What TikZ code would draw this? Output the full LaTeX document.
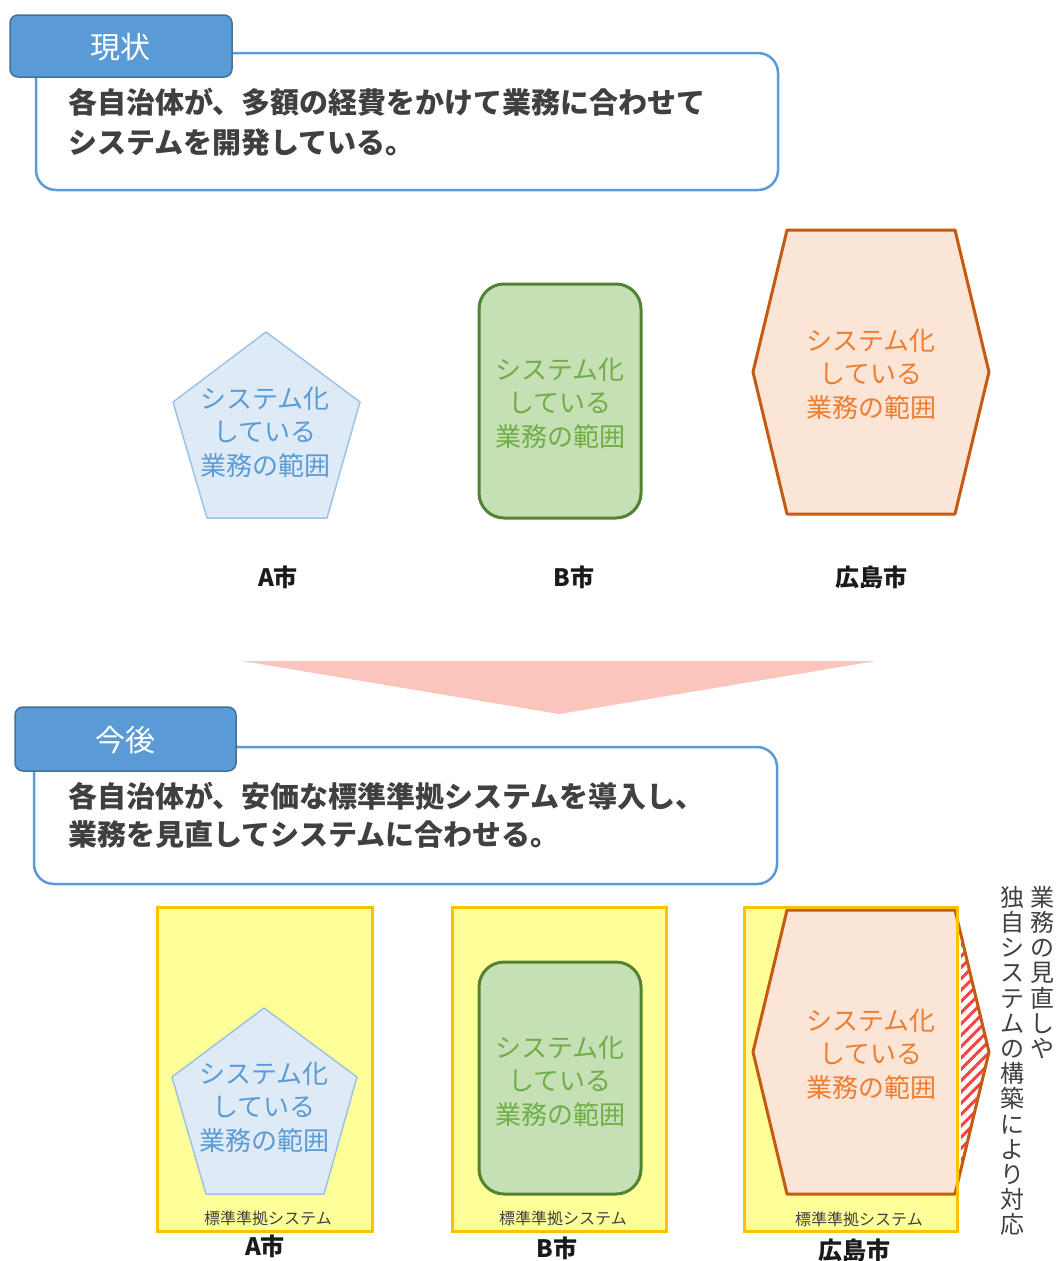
\documentclass[tikz,border=0pt]{standalone}
\usepackage{fontspec}
\setmainfont{Noto Sans CJK JP}
\usetikzlibrary{patterns.meta}
\definecolor{tabfill}{HTML}{5B9BD5}
\definecolor{tabdraw}{HTML}{41719C}
\definecolor{boxdraw}{HTML}{5B9BD5}
\definecolor{titletext}{HTML}{404040}
\definecolor{afill}{HTML}{DEEBF7}
\definecolor{adraw}{HTML}{9DC3E6}
\definecolor{atext}{HTML}{5B9BD5}
\definecolor{bfill}{HTML}{C5E0B4}
\definecolor{bdraw}{HTML}{548235}
\definecolor{btext}{HTML}{70AD47}
\definecolor{hfill}{HTML}{FBE5D6}
\definecolor{hdraw}{HTML}{C55A11}
\definecolor{htext}{HTML}{ED7D31}
\definecolor{arrowfill}{HTML}{FAC5BA}
\definecolor{stdfill}{HTML}{FFFF99}
\definecolor{stddraw}{HTML}{FFC000}
\definecolor{labeltext}{HTML}{1A1A1A}
\tikzset{
  tabbox/.style={fill=tabfill,draw=tabdraw,line width=1.5pt,rounded corners=8pt},
  msgbox/.style={fill=white,draw=boxdraw,line width=2.5pt,rounded corners=20pt},
  tabtext/.style={text=white,font=\fontsize{30}{34}\selectfont,inner sep=0pt},
  msgtext/.style={text=titletext,font=\bfseries\fontsize{29}{34}\selectfont,inner sep=0pt,anchor=base west},
  apent/.style={fill=afill,draw=adraw,line width=1.5pt,line join=round},
  bround/.style={fill=bfill,draw=bdraw,line width=3pt,rounded corners=25pt},
  hexa/.style={fill=hfill,draw=hdraw,line width=3pt,line join=round},
  shapetext/.style={align=center,inner sep=0pt,font=\fontsize{26}{33.5}\selectfont},
  citylabel/.style={text=labeltext,font=\bfseries\fontsize{24}{28}\selectfont,inner sep=0pt},
  stdbox/.style={fill=stdfill,draw=stddraw,line width=3pt},
  stdtext/.style={text=titletext,font=\fontsize{16}{18}\selectfont,inner sep=0pt},
  verttext/.style={text=titletext,align=center,inner sep=0pt,anchor=north,font=\fontsize{24}{25.2}\selectfont},
}
\begin{document}
\begin{tikzpicture}[x=1pt,y=-1pt]
\useasboundingbox (0,0) rectangle (1055,1261);
% ===== top section =====
\draw[msgbox] (36,53) rectangle (778,190);
\draw[tabbox] (10,15) rectangle (232,77);
\node[tabtext] (tab1) at (120,47) {現状};
\node[msgtext] (msg1a) at (68,113) {各自治体が、多額の経費をかけて業務に合わせて};
\node[msgtext] (msg1b) at (68,153) {システムを開発している。};
% pentagon A
\draw[apent] (266,332) -- (360,402) -- (327,518) -- (207,518) -- (173,402) -- cycle;
\node[shapetext,text=atext] (ta1) at (265,432) {システム化\\している\\業務の範囲};
% rounded B
\draw[bround] (479,284) rectangle (641,518);
\node[shapetext,text=btext] (tb1) at (560,403) {システム化\\している\\業務の範囲};
% hexagon Hiroshima
\draw[hexa] (787,230) -- (955,230) -- (989,372) -- (955,514) -- (787,514) -- (753,372) -- cycle;
\node[shapetext,text=htext] (th1) at (871,374) {システム化\\している\\業務の範囲};
\node[citylabel] (la1) at (278,577) {A市};
\node[citylabel] (lb1) at (574,577) {B市};
\node[citylabel] (lh1) at (871,577) {広島市};
% ===== arrow =====
\fill[arrowfill] (242,661) -- (876,661) -- (559,714) -- cycle;
\coordinate (arrowtip) at (559,714);
% ===== bottom section =====
\draw[msgbox] (34,747) rectangle (777,884);
\draw[tabbox] (15,707) rectangle (236,771);
\node[tabtext] (tab2) at (125,740) {今後};
\node[msgtext] (msg2a) at (68,807) {各自治体が、安価な標準準拠システムを導入し、};
\node[msgtext] (msg2b) at (68,845) {業務を見直してシステムに合わせる。};
% A
\fill[stdfill] (157,907) rectangle (372,1231);
\draw[apent] (264,1008) -- (357,1077) -- (324,1194) -- (206,1194) -- (172,1077) -- cycle;
\node[shapetext,text=atext] (ta2) at (264,1107) {システム化\\している\\業務の範囲};
\draw[stdbox,fill=none] (157,907) rectangle (372,1231);
\node[stdtext] (sa) at (268,1218) {標準準拠システム};
% B
\fill[stdfill] (452,907) rectangle (666,1231);
\draw[bround] (479,962) rectangle (641,1194);
\node[shapetext,text=btext] (tb2) at (560,1081) {システム化\\している\\業務の範囲};
\draw[stdbox,fill=none] (452,907) rectangle (666,1231);
\node[stdtext] (sb) at (563,1218) {標準準拠システム};
% Hiroshima
\fill[stdfill] (744,907) rectangle (957,1231);
\fill[hfill] (787,910) -- (955,910) -- (989,1052) -- (955,1194) -- (787,1194) -- (753,1052) -- cycle;
\begin{scope}
  \clip (787,910) -- (955,910) -- (989,1052) -- (955,1194) -- (787,1194) -- (753,1052) -- cycle;
  \fill[white] (957,900) rectangle (1000,1200);
  \fill[pattern={Lines[angle=45,distance=8pt,line width=3pt]},pattern color=red!75] (961,900) rectangle (1000,1200);
\end{scope}
\draw[hexa,fill=none] (787,910) -- (955,910) -- (989,1052) -- (955,1194) -- (787,1194) -- (753,1052) -- cycle;
\node[shapetext,text=htext] (th2) at (871,1054) {システム化\\している\\業務の範囲};
\draw[stdbox,fill=none] (744,907) rectangle (957,1231);
\node[stdtext] (sh) at (859,1219) {標準準拠システム};
\node[citylabel] (la2) at (265,1246) {A市};
\node[citylabel] (lb2) at (557,1248) {B市};
\node[citylabel] (lh2) at (854,1250) {広島市};
% vertical note
\node[verttext] (v1) at (1042,886) {業\\務\\の\\見\\直\\し\\や};
\node[verttext] (v2) at (1012,886) {独\\自\\シ\\ス\\テ\\ム\\の\\構\\築\\に\\よ\\り\\対\\応};
\end{tikzpicture}
\end{document}
